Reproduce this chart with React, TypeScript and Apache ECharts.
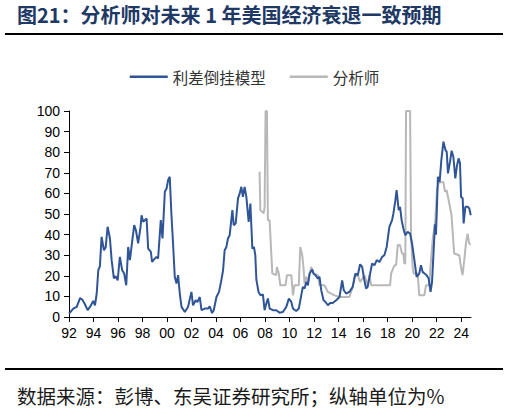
import React, { useEffect, useRef } from "react";
import * as echarts from "echarts";

// ---- data (year as decimal, value in %) ----
const modelDates = [
  1992.0, 1992.35, 1992.63, 1992.9, 1993.08, 1993.3, 1993.52, 1993.71, 1993.98, 1994.12,
  1994.26, 1994.39, 1994.52, 1994.66, 1994.85, 1994.99, 1995.15, 1995.34, 1995.48, 1995.66,
  1995.8, 1995.97, 1996.15, 1996.34, 1996.5, 1996.67, 1996.83, 1996.97, 1997.15, 1997.32,
  1997.46, 1997.64, 1997.84, 1997.92, 1998.05, 1998.33, 1998.46, 1998.68, 1998.78, 1999.0,
  1999.14, 1999.27, 1999.49, 1999.63, 1999.82, 1999.96, 2000.09, 2000.22, 2000.36, 2000.49,
  2000.63, 2000.77, 2000.9, 2001.04, 2001.18, 2001.45, 2001.71, 2001.99, 2002.12, 2002.34,
  2002.48, 2002.67, 2002.81, 2003.07, 2003.34, 2003.48, 2003.67, 2003.81, 2004.03, 2004.24,
  2004.43, 2004.57, 2004.7, 2004.84, 2004.97, 2005.11, 2005.33, 2005.44, 2005.6, 2005.79,
  2005.93, 2006.06, 2006.19, 2006.33, 2006.47, 2006.66, 2006.8, 2006.96, 2007.09, 2007.2,
  2007.29, 2007.47, 2007.64, 2007.82, 2007.96, 2008.1, 2008.23, 2008.37, 2008.64, 2008.91,
  2009.18, 2009.45, 2009.73, 2009.94, 2010.14, 2010.27, 2010.54, 2010.75, 2010.95, 2011.08,
  2011.22, 2011.36, 2011.49, 2011.63, 2011.85, 2011.95, 2012.11, 2012.3, 2012.44, 2012.58,
  2012.77, 2012.93, 2013.12, 2013.31, 2013.52, 2013.8, 2014.07, 2014.29, 2014.42, 2014.61,
  2014.88, 2015.15, 2015.37, 2015.56, 2015.75, 2015.92, 2016.1, 2016.24, 2016.37, 2016.57,
  2016.73, 2016.92, 2017.11, 2017.33, 2017.55, 2017.73, 2017.92, 2018.14, 2018.36, 2018.47,
  2018.63, 2018.73, 2018.9, 2019.01, 2019.14, 2019.28, 2019.44, 2019.63, 2019.83, 2019.99,
  2020.18, 2020.36, 2020.58, 2020.72, 2020.85, 2021.01, 2021.18, 2021.34, 2021.5, 2021.62,
  2021.75, 2021.86, 2021.94, 2022.03, 2022.1, 2022.24, 2022.38, 2022.55, 2022.72, 2022.82,
  2022.92, 2023.09, 2023.22, 2023.36, 2023.52, 2023.66, 2023.79, 2023.9, 2023.99, 2024.12,
  2024.2, 2024.34, 2024.53, 2024.66, 2024.78,
];
const modelValues = [
  1.6, 4.1, 4.9, 9.2, 8.5, 6.2, 3.3, 4.9, 7.8, 5.7,
  11.4, 22.7, 24.6, 38.9, 32.4, 33.7, 43.8, 38.1, 27.6, 18.7,
  19.8, 17.8, 29.2, 22.7, 21.1, 15.4, 34.0, 27.6, 36.5, 44.6,
  42.1, 35.7, 43.8, 49.4, 46.2, 47.8, 33.2, 31.6, 26.7, 28.4,
  29.2, 28.4, 47.0, 38.1, 60.8, 62.4, 66.5, 68.1, 49.4, 35.7,
  19.5, 16.2, 20.3, 11.4, 4.9, 2.4, 4.9, 12.2, 5.7, 8.1,
  7.3, 9.7, 3.3, 4.1, 4.1, 5.2, 1.9, 3.3, 9.7, 12.2,
  17.8, 22.7, 32.4, 34.0, 38.1, 39.7, 51.9, 44.6, 45.4, 57.6,
  60.0, 63.2, 58.3, 63.2, 58.3, 46.2, 55.1, 33.2, 34.0, 30.0,
  18.0, 12.0, 10.5, 11.0, 3.3, 6.5, 9.0, 4.1, 3.3, 3.3,
  2.1, 2.4, 4.9, 8.9, 7.3, 4.1, 2.9, 4.1, 10.5, 14.6,
  13.8, 17.0, 15.4, 21.1, 23.0, 21.1, 20.3, 18.7, 19.5, 13.0,
  8.1, 7.3, 5.7, 6.8, 6.8, 8.1, 9.7, 17.8, 13.0, 11.4,
  12.2, 14.6, 21.1, 20.3, 25.6, 24.3, 17.8, 13.8, 14.6, 21.1,
  26.0, 25.1, 27.6, 26.7, 29.2, 30.0, 34.0, 43.8, 47.0, 50.3,
  56.7, 61.6, 51.9, 53.5, 47.0, 43.0, 39.7, 41.3, 40.5, 35.7,
  27.6, 19.5, 21.1, 25.1, 21.9, 21.1, 20.3, 18.7, 12.2, 17.0,
  32.0, 45.0, 40.0, 55.0, 68.1, 65.6, 76.2, 85.1, 81.0, 80.2,
  69.7, 75.4, 80.7, 77.8, 67.3, 73.7, 77.0, 74.6, 58.3, 57.6,
  45.4, 53.5, 53.5, 52.7, 49.4,
];

const analystDates = [
  2007.55, 2007.61, 2007.88, 2007.96, 2008.04, 2008.15, 2008.23, 2008.37, 2008.42, 2008.59,
  2008.91, 2008.96, 2009.12, 2009.24, 2009.67, 2009.78, 2010.14, 2010.27, 2010.4, 2010.75,
  2010.87, 2011.03, 2011.14, 2011.22, 2011.36, 2011.49, 2011.76, 2011.95, 2012.3, 2012.44,
  2012.85, 2013.12, 2013.66, 2014.07, 2014.88, 2015.15, 2015.29, 2015.56, 2015.75, 2016.1,
  2016.37, 2016.51, 2016.65, 2018.2, 2018.28, 2018.55, 2018.69, 2018.82, 2019.01, 2019.17,
  2019.28, 2019.36, 2019.44, 2019.5, 2019.83, 2019.91, 2020.04, 2020.12, 2020.45, 2020.58,
  2020.99, 2021.13, 2021.4, 2021.48, 2021.67, 2021.89, 2022.02, 2022.16, 2022.54, 2022.68,
  2022.81, 2023.03, 2023.21, 2023.35, 2023.43, 2023.84, 2023.98, 2024.11, 2024.25, 2024.39,
  2024.52, 2024.65, 2024.78,
];
const analystValues = [
  70.5, 51.9, 50.3, 53.5, 100, 100, 47.0, 47.0, 40.5, 21.1,
  20.3, 24.3, 21.1, 15.4, 15.4, 20.3, 20.3, 10.5, 15.4, 15.4,
  34.0, 30.0, 23.5, 16.2, 19.5, 17.0, 24.3, 21.1, 20.3, 15.4,
  15.4, 12.2, 10.5, 9.7, 9.7, 14.6, 19.5, 20.3, 17.0, 20.3,
  15.4, 20.3, 15.4, 15.4, 21.1, 25.1, 25.1, 34.9, 34.9, 30.8,
  30.8, 26.0, 26.0, 100, 100, 38.9, 24.3, 21.1, 21.1, 10.5,
  10.5, 15.4, 15.4, 23.5, 37.3, 47.0, 61.6, 65.1, 65.6, 60.8,
  61.6, 55.1, 49.4, 37.3, 30.8, 30.0, 24.3, 20.3, 27.6, 35.7,
  40.5, 35.7, 35.2,
];

const yearTicks = [1992, 1994, 1996, 1998, 2000, 2002, 2004, 2006, 2008, 2010, 2012, 2014, 2016, 2018, 2020, 2022, 2024];
const seriesNames = ["利差倒挂模型", "分析师"];
const titleText = "图21：分析师对未来 1 年美国经济衰退一致预期";
const footerText = "数据来源：彭博、东吴证券研究所；纵轴单位为%";

const CJK = '"Noto Sans CJK SC", sans-serif';
const LATIN = '"Liberation Sans", Arial, sans-serif';

export default function App() {
  const ref = useRef<HTMLDivElement>(null);
  useEffect(() => {
    if (!ref.current) return;
    const chart = echarts.init(ref.current, null, { renderer: "svg" });
    const modelData = modelDates.map((d, i) => [d, modelValues[i]]);
    const analystData = analystDates.map((d, i) => [d, analystValues[i]]);
    chart.setOption({
      animation: false,
      backgroundColor: "#ffffff",
      grid: { left: 69, right: 38, top: 111, bottom: 100, containLabel: false },
      legend: {
        top: 64,
        left: "center",
        icon: "rect",
        itemWidth: 38,
        itemHeight: 2.5,
        itemGap: 24,
        textStyle: { fontSize: 15.5, color: "#333333", fontFamily: CJK },
        data: [seriesNames[0], seriesNames[1]],
      },
      xAxis: {
        type: "value",
        min: 1992,
        max: 2024.8,
        splitLine: { show: false },
        axisLine: { show: true, onZero: false, lineStyle: { color: "#000", width: 1 } },
        axisTick: { show: true, length: 5, customValues: yearTicks, lineStyle: { color: "#000" } },
        axisLabel: {
          customValues: yearTicks,
          margin: 9,
          fontSize: 14,
          color: "#000",
          fontFamily: LATIN,
          formatter: (v: number) => String(Math.round(v) % 100).padStart(2, "0"),
        },
      },
      yAxis: {
        type: "value",
        min: 0,
        max: 100,
        interval: 10,
        splitLine: { show: false },
        axisLine: { show: true, lineStyle: { color: "#000", width: 1 } },
        axisTick: { show: true, length: 5, lineStyle: { color: "#000" } },
        axisLabel: { margin: 9, fontSize: 14, color: "#000", fontFamily: LATIN },
      },
      series: [
        {
          name: seriesNames[1],
          type: "line",
          data: analystData,
          symbol: "none",
          lineStyle: { color: "#b8b8b8", width: 2 },
          itemStyle: { color: "#b8b8b8" },
          z: 2,
        },
        {
          name: seriesNames[0],
          type: "line",
          data: modelData,
          symbol: "none",
          lineStyle: { color: "#2f5597", width: 2 },
          itemStyle: { color: "#2f5597" },
          z: 3,
        },
      ],
      graphic: [
        {
          type: "text",
          left: 17,
          top: 4,
          style: { text: titleText, fontSize: 20, fontWeight: "bold", fill: "#203864", fontFamily: CJK },
        },
        {
          type: "line",
          shape: { x1: 5, y1: 34, x2: 503, y2: 34 },
          style: { stroke: "#000", lineWidth: 2 },
        },
        {
          type: "line",
          shape: { x1: 5, y1: 369, x2: 503, y2: 369 },
          style: { stroke: "#000", lineWidth: 2 },
        },
        {
          type: "text",
          left: 17,
          top: 386,
          style: { text: footerText, fontSize: 19.5, fill: "#1a1a1a", fontFamily: CJK },
        },
      ],
    });
    return () => chart.dispose();
  }, []);
  return (
    <div
      ref={ref}
      style={{ position: "fixed", left: 0, top: 0, width: 509, height: 417, background: "#fff" }}
    />
  );
}
